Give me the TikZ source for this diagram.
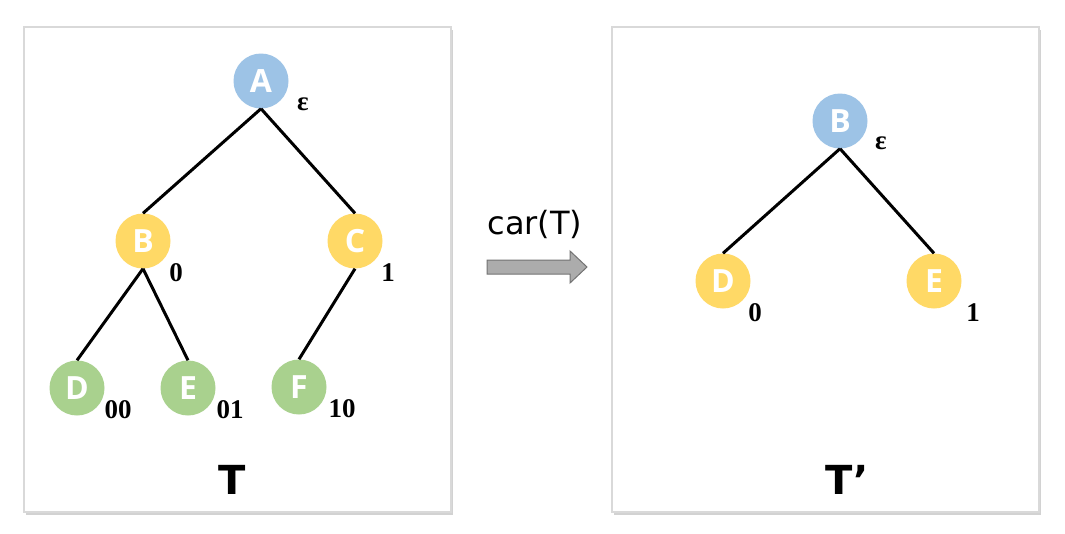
\documentclass[tikz,border=0pt]{standalone}
\usepackage{fontspec}
\usetikzlibrary{shadows}
\newfontfamily\ltrfont{Open Sans}
\newfontfamily\codefont{Liberation Serif}
\newfontfamily\capfont{DejaVu Sans}
\definecolor{rootblue}{HTML}{9DC3E6}
\definecolor{midyellow}{HTML}{FFD966}
\definecolor{leafgreen}{HTML}{A9D18E}
\tikzset{
  vert/.style={circle, minimum size=55pt, inner sep=0pt, text=white,
    font=\ltrfont\bfseries\fontsize{32}{34}\selectfont},
  code/.style={inner sep=0pt, font=\codefont\bfseries\fontsize{27}{29}\selectfont},
  title/.style={inner sep=0pt, font=\capfont\bfseries\fontsize{40}{42}\selectfont},
  panel/.style={fill=white, draw=gray!30, line width=1.5pt,
    drop shadow={shadow xshift=1.5pt, shadow yshift=-2.5pt, opacity=.35}},
  edge/.style={line width=3pt}
}
\begin{document}
\begin{tikzpicture}[x=1pt,y=-1pt]
\useasboundingbox (0,0) rectangle (1065,533);
\fill [white] (0,0) rectangle (1065,533);
\draw [panel] (24,27) rectangle (451,512);
\draw [panel] (612,27) rectangle (1039,512);

\node [vert, fill=rootblue] (A) at (261,81) {A};
\node [vert, fill=midyellow] (B) at (143,241) {B};
\node [vert, fill=midyellow] (C) at (355,241) {C};
\node [vert, fill=leafgreen] (D) at (77,388) {D};
\node [vert, fill=leafgreen] (E) at (188,388) {E};
\node [vert, fill=leafgreen] (F) at (299,387) {F};
\draw [edge] (A.south) -- (B.north);
\draw [edge] (A.south) -- (C.north);
\draw [edge] (B.south) -- (D.north);
\draw [edge] (B.south) -- (E.north);
\draw [edge] (C.south) -- (F.north);
\node [code] (cA) at (303,104) {ε};
\node [code] (cB) at (176,273) {0};
\node [code] (cC) at (388,273) {1};
\node [code] (cD) at (118,410) {00};
\node [code] (cE) at (230,410) {01};
\node [code] (cF) at (342,409) {10};
\node [title] (T) at (232,480) {T};

\node [inner sep=0pt, font=\capfont\fontsize{32}{34}\selectfont] (car) at (535,224) {car(T)};
\draw [fill=gray!65, draw=gray!90!black, line width=1pt] (487,260) -- (570,260) -- (570,251)
  -- (587,267) -- (570,283) -- (570,274) -- (487,274) -- cycle;

\node [vert, fill=rootblue] (B2) at (840,121) {B};
\node [vert, fill=midyellow] (D2) at (723,281) {D};
\node [vert, fill=midyellow] (E2) at (934,281) {E};
\draw [edge] (B2.south) -- (D2.north);
\draw [edge] (B2.south) -- (E2.north);
\node [code] (cB2) at (881,143) {ε};
\node [code] (cD2) at (755,313) {0};
\node [code] (cE2) at (973,313) {1};
\node [title] (T2) at (847,480) {T’};
\end{tikzpicture}
\end{document}
